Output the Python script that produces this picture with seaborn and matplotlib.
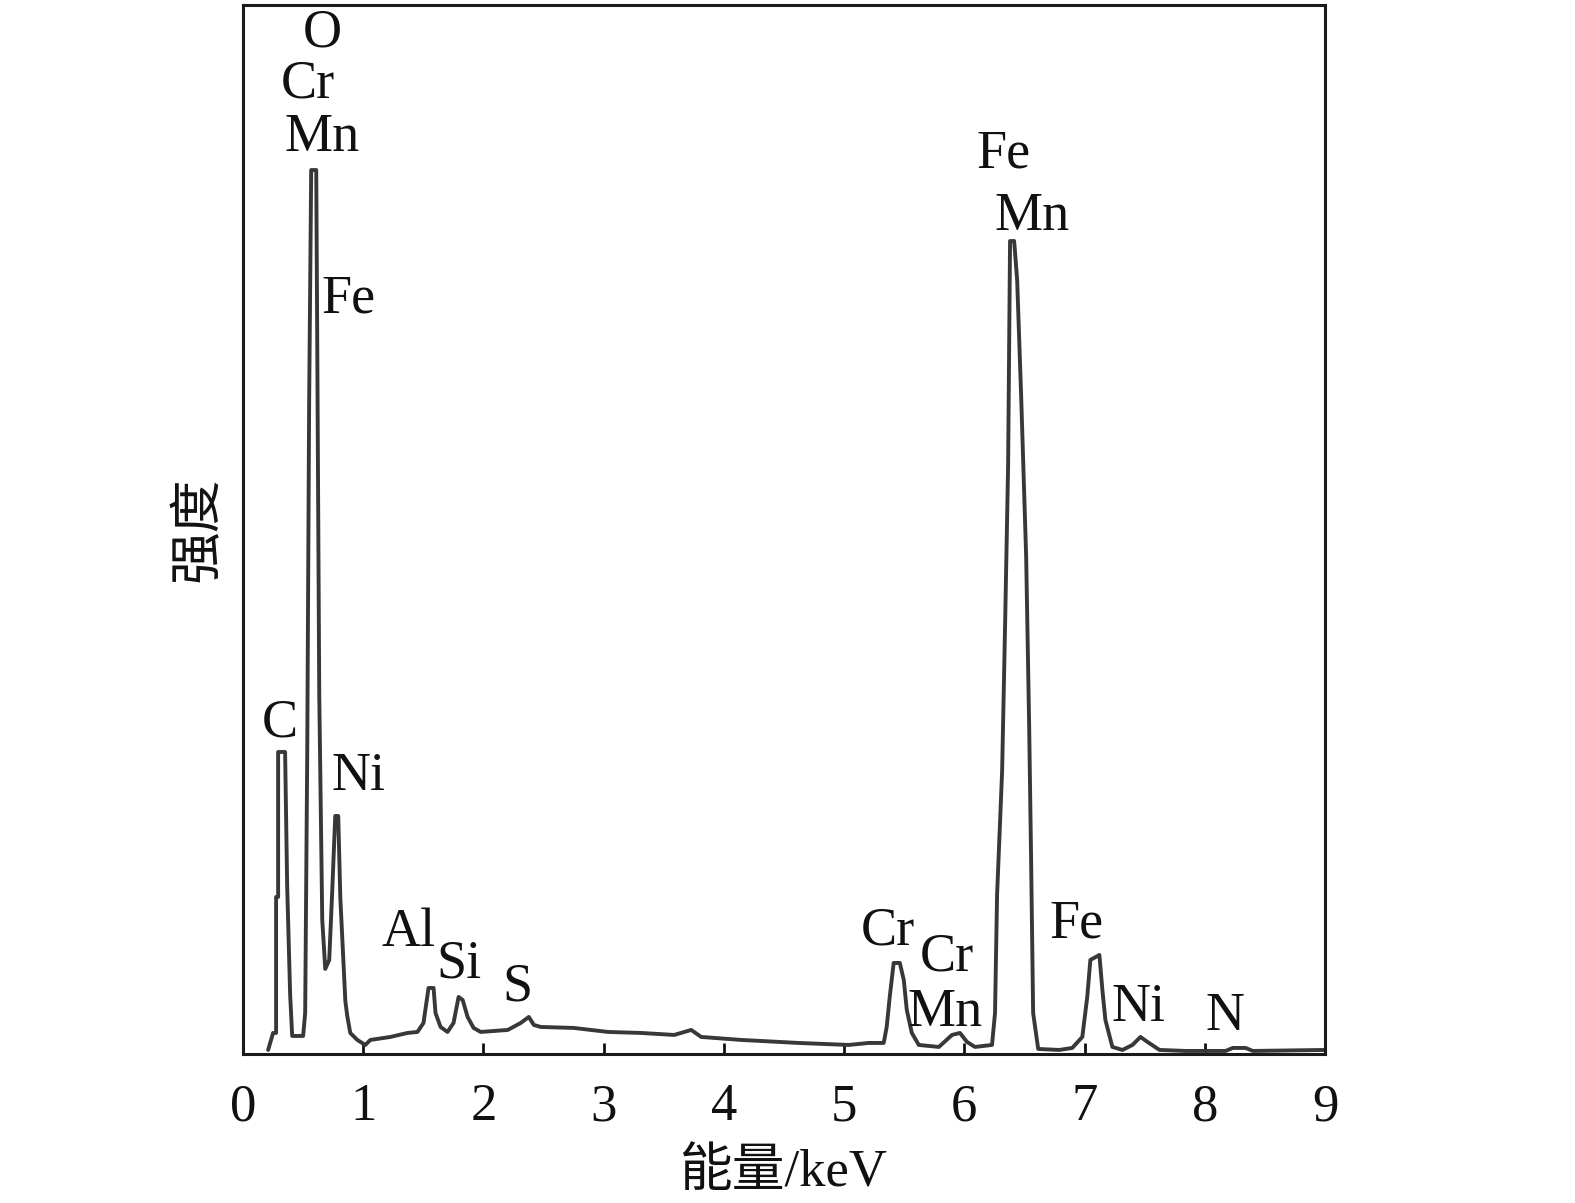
import matplotlib
matplotlib.use("Agg")
import matplotlib.pyplot as plt
import seaborn as sns
import pandas as pd

# EDS spectrum (energy in keV, intensity in arbitrary units)
energy = [0.209, 0.250, 0.275, 0.275, 0.292, 0.292, 0.350, 0.367, 0.392, 0.409,
          0.500, 0.517, 0.534, 0.550, 0.567, 0.609, 0.617, 0.634, 0.659, 0.684,
          0.717, 0.742, 0.767, 0.792, 0.809, 0.851, 0.867, 0.892, 0.951, 1.017,
          1.059, 1.226, 1.368, 1.451, 1.501, 1.543, 1.585, 1.601, 1.643, 1.701,
          1.751, 1.793, 1.827, 1.868, 1.918, 1.977, 2.202, 2.310, 2.377, 2.419,
          2.477, 2.752, 3.036, 3.311, 3.586, 3.728, 3.811, 4.145, 4.621, 5.038,
          5.204, 5.329, 5.354, 5.379, 5.412, 5.463, 5.496, 5.521, 5.563, 5.621,
          5.788, 5.897, 5.963, 6.022, 6.088, 6.230, 6.255, 6.272, 6.314, 6.339,
          6.364, 6.380, 6.414, 6.439, 6.472, 6.514, 6.539, 6.555, 6.572, 6.614,
          6.789, 6.897, 6.981, 7.022, 7.048, 7.123, 7.148, 7.173, 7.231, 7.315,
          7.398, 7.465, 7.523, 7.623, 7.840, 8.173, 8.232, 8.340, 8.399, 9.000]
intensity = [4, 21, 21, 157, 157, 302, 302, 169, 59, 18,
             18, 41, 299, 652, 884, 884, 719, 360, 134, 85,
             94, 163, 238, 238, 157, 53, 38, 21, 14, 9,
             14, 17, 21, 22, 31, 66, 66, 41, 27, 22,
             31, 57, 54, 37, 26, 22, 24, 31, 37, 29,
             27, 26, 22, 21, 19, 24, 17, 14, 11, 9,
             11, 11, 27, 57, 91, 91, 74, 44, 21, 9,
             7, 19, 21, 12, 7, 9, 41, 159, 283, 431,
             590, 813, 813, 774, 659, 497, 327, 195, 41, 5,
             4, 6, 17, 57, 94, 99, 64, 34, 7, 4,
             9, 17, 12, 4, 3, 3, 6, 6, 3, 4]

# peak labels
peak_names = ["O", "Cr", "Mn", "Fe", "C", "Ni", "Al", "Si", "S",
              "Cr", "Cr", "Mn", "Fe", "Mn", "Fe", "Ni", "N"]
peak_e = [0.659, 0.542, 0.659, 0.876, 0.309, 0.959, 1.376, 1.793, 2.285,
          5.363, 5.855, 5.838, 6.322, 6.564, 6.931, 7.448, 8.165]
peak_i = [1008, 957, 903, 742, 317, 264, 108, 76, 53,
          109, 83, 28, 887, 824, 116, 33, 24]

df = pd.DataFrame({"energy": energy, "intensity": intensity})

sns.set_theme(style="ticks")
plt.rcParams["font.family"] = ["Liberation Serif", "Noto Sans CJK SC", "DejaVu Sans"]

fig = plt.figure(figsize=(15.75, 12.03), dpi=100)
ax = fig.add_axes([0.1543, 0.1239, 0.6870, 0.8719])

sns.lineplot(data=df, x="energy", y="intensity", sort=False, estimator=None,
             color="#383838", linewidth=2.8, ax=ax)

for name, e, i in zip(peak_names, peak_e, peak_i):
    ax.text(e, i, name, ha="center", va="baseline", fontsize=39, color="#111111")

ax.set_xlim(0, 9)
ax.set_ylim(0, 1049)
ax.set_xticks(range(0, 10))
ax.set_yticks([])
ax.tick_params(axis="x", direction="in", length=8, width=2, labelsize=38,
               pad=21, colors="#111111")
for s in ax.spines.values():
    s.set_linewidth(2.2)
    s.set_color("#1a1a1a")

ax.set_xlabel("能量/keV", fontsize=38, labelpad=12, color="#111111")
ax.set_ylabel("强度", fontsize=38, labelpad=14, color="#111111")

fig.savefig("out.png", dpi=100)
